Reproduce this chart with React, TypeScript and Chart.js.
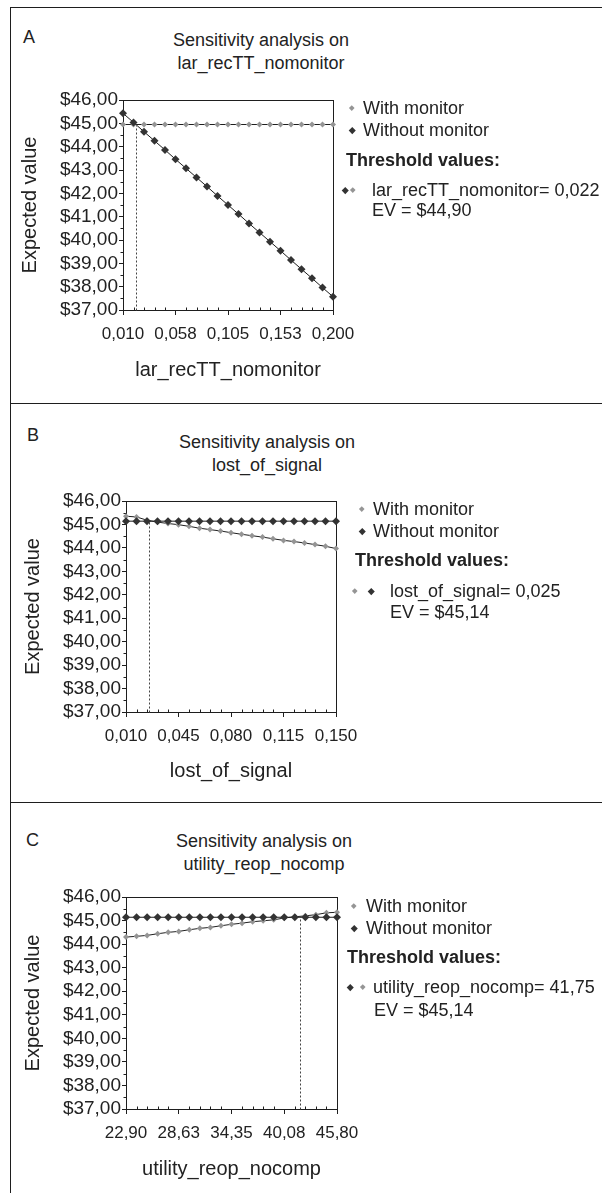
import React, { useEffect, useRef } from "react";
import { Chart, registerables } from "chart.js";

Chart.register(...registerables);

const FONT = "'Liberation Sans', Arial, Helvetica, sans-serif";
const TEXT = "#222222";
const DARK = "#333333";
const GRAY = "#959595";
const LINE = "#1e1e1e";

// ---------- shared y axis ----------
const yTickValues = [37, 38, 39, 40, 41, 42, 43, 44, 45, 46];
const yTickLabels = ["$37,00", "$38,00", "$39,00", "$40,00", "$41,00", "$42,00", "$43,00", "$44,00", "$45,00", "$46,00"];
const yMinorTicks = [37.5, 38.5, 39.5, 40.5, 41.5, 42.5, 43.5, 44.5, 45.5];

// ---------- Panel A : lar_recTT_nomonitor ----------
const xValuesA = [0.01, 0.0195, 0.029, 0.0385, 0.048, 0.0575, 0.067, 0.0765, 0.086, 0.0955, 0.105, 0.1145, 0.124, 0.1335, 0.143, 0.1525, 0.162, 0.1715, 0.181, 0.1905, 0.2];
const withMonitorA = [44.95, 44.95, 44.95, 44.95, 44.95, 44.95, 44.95, 44.95, 44.95, 44.95, 44.95, 44.95, 44.95, 44.95, 44.95, 44.95, 44.95, 44.95, 44.95, 44.95, 44.95];
const withoutMonitorA = [45.43, 45.04, 44.64, 44.25, 43.86, 43.46, 43.07, 42.68, 42.29, 41.89, 41.5, 41.11, 40.71, 40.32, 39.93, 39.54, 39.14, 38.75, 38.36, 37.96, 37.57];
const xTickValuesA = [0.01, 0.0575, 0.105, 0.1525, 0.2];
const xTickLabelsA = ["0,010", "0,058", "0,105", "0,153", "0,200"];
const thresholdXA = 0.022;
const thresholdEVA = 44.9;

// ---------- Panel B : lost_of_signal ----------
const xValuesB = [0.01, 0.017, 0.024, 0.031, 0.038, 0.045, 0.052, 0.059, 0.066, 0.073, 0.08, 0.087, 0.094, 0.101, 0.108, 0.115, 0.122, 0.129, 0.136, 0.143, 0.15];
const withMonitorB = [45.35, 45.32, 45.18, 45.1, 45.04, 44.99, 44.92, 44.84, 44.78, 44.72, 44.65, 44.58, 44.52, 44.46, 44.39, 44.32, 44.27, 44.21, 44.14, 44.07, 43.97];
const withoutMonitorB = [45.14, 45.14, 45.14, 45.14, 45.14, 45.14, 45.14, 45.14, 45.14, 45.14, 45.14, 45.14, 45.14, 45.14, 45.14, 45.14, 45.14, 45.14, 45.14, 45.14, 45.14];
const xTickValuesB = [0.01, 0.045, 0.08, 0.115, 0.15];
const xTickLabelsB = ["0,010", "0,045", "0,080", "0,115", "0,150"];
const thresholdXB = 0.025;
const thresholdEVB = 45.14;

// ---------- Panel C : utility_reop_nocomp ----------
const xValuesC = [22.9, 24.045, 25.19, 26.335, 27.48, 28.625, 29.77, 30.915, 32.06, 33.205, 34.35, 35.495, 36.64, 37.785, 38.93, 40.075, 41.22, 42.365, 43.51, 44.655, 45.8];
const withMonitorC = [44.3, 44.33, 44.37, 44.44, 44.5, 44.54, 44.61, 44.67, 44.71, 44.78, 44.84, 44.89, 44.95, 44.99, 45.03, 45.11, 45.16, 45.2, 45.25, 45.33, 45.35];
const withoutMonitorC = [45.14, 45.14, 45.14, 45.14, 45.14, 45.14, 45.14, 45.14, 45.14, 45.14, 45.14, 45.14, 45.14, 45.14, 45.14, 45.14, 45.14, 45.14, 45.14, 45.14, 45.14];
const xTickValuesC = [22.9, 28.625, 34.35, 40.075, 45.8];
const xTickLabelsC = ["22,90", "28,63", "34,35", "40,08", "45,80"];
const thresholdXC = 41.75;
const thresholdEVC = 45.14;

const decorPlugin = {
  id: "decor",
  beforeDatasetsDraw(chart: any, _args: any, opts: any) {
    const { ctx, chartArea: a, scales } = chart;
    const x = scales.x;
    const y = scales.y;
    ctx.save();
    ctx.strokeStyle = LINE;
    ctx.lineWidth = 1;
    ctx.setLineDash([]);
    const L = Math.round(a.left) + 0.5;
    const R = Math.round(a.right) + 0.5;
    const T = Math.round(a.top) + 0.5;
    const B = Math.round(a.bottom) + 0.5;
    ctx.strokeRect(L, T, R - L, B - T);
    // minor ticks on x (inside, upward)
    ctx.beginPath();
    (opts.minorX || []).forEach((v: number) => {
      const px = Math.round(x.getPixelForValue(v)) + 0.5;
      ctx.moveTo(px, B);
      ctx.lineTo(px, B - 3);
    });
    // minor ticks on y (outside, left)
    (opts.minorY || []).forEach((v: number) => {
      const py = Math.round(y.getPixelForValue(v)) + 0.5;
      ctx.moveTo(L, py);
      ctx.lineTo(L - 3, py);
    });
    ctx.stroke();
    // dotted threshold line
    const tx = Math.round(x.getPixelForValue(opts.thresholdX)) + 0.5;
    const ty = y.getPixelForValue(opts.thresholdEV);
    ctx.setLineDash([2, 2]);
    ctx.strokeStyle = "#444";
    ctx.beginPath();
    ctx.moveTo(tx, B);
    ctx.lineTo(tx, ty);
    ctx.stroke();
    ctx.restore();
  },
};

type PanelProps = {
  top: number;
  height: number;
  area: { left: number; right: number; top: number; bottom: number };
  yTitlePad: number;
  xTitlePad: number;
  xs: number[];
  withM: number[];
  withoutM: number[];
  xTicks: number[];
  xLabels: string[];
  thrX: number;
  thrEV: number;
  xTitle: string;
};

function PanelChart(p: PanelProps) {
  const ref = useRef<HTMLCanvasElement>(null);
  useEffect(() => {
    if (!ref.current) return;
    const minorX = p.xs.filter((v) => !p.xTicks.some((t) => Math.abs(t - v) < 1e-9));
    const chart = new Chart(ref.current, {
      type: "line",
      data: {
        datasets: [
          {
            label: "Without monitor",
            data: p.xs.map((x, i) => ({ x, y: p.withoutM[i] })),
            order: 0,
            borderColor: LINE,
            borderWidth: 1,
            pointStyle: "rectRot",
            pointRadius: 4,
            pointBackgroundColor: DARK,
            pointBorderColor: DARK,
            pointBorderWidth: 0,
            tension: 0,
            clip: false as any,
          },
          {
            label: "With monitor",
            data: p.xs.map((x, i) => ({ x, y: p.withM[i] })),
            order: 1,
            borderColor: LINE,
            borderWidth: 1,
            pointStyle: "rectRot",
            pointRadius: 3,
            pointBackgroundColor: GRAY,
            pointBorderColor: GRAY,
            pointBorderWidth: 0,
            tension: 0,
            clip: false as any,
          },
        ],
      },
      options: {
        responsive: false,
        animation: false,
        devicePixelRatio: 1,
        events: [],
        layout: {
          autoPadding: false,
          padding: { left: 0, top: p.area.top, right: 602 - p.area.right, bottom: 0 },
        },
        plugins: {
          legend: { display: false },
          tooltip: { enabled: false },
          decor: { minorX, minorY: yMinorTicks, thresholdX: p.thrX, thresholdEV: p.thrEV },
        } as any,
        scales: {
          x: {
            type: "linear",
            min: p.xTicks[0],
            max: p.xTicks[p.xTicks.length - 1],
            afterFit: (s: any) => {
              s.height = p.height - p.area.bottom;
            },
            afterBuildTicks: (s: any) => {
              s.ticks = p.xTicks.map((v) => ({ value: v }));
            },
            ticks: {
              callback: (_v: any, i: number) => p.xLabels[i],
              autoSkip: false,
              maxRotation: 0,
              minRotation: 0,
              padding: 9,
              color: TEXT,
              font: { family: FONT, size: 17 },
            },
            grid: { drawOnChartArea: false, drawTicks: true, tickLength: 5, color: LINE, tickColor: LINE, tickWidth: 1 },
            border: { display: true, color: LINE, width: 1 },
            title: {
              display: true,
              text: p.xTitle,
              color: TEXT,
              font: { family: FONT, size: 20 },
              padding: { top: 0, bottom: p.xTitlePad },
            },
          },
          y: {
            type: "linear",
            min: 37,
            max: 46,
            afterFit: (s: any) => {
              s.width = p.area.left;
            },
            afterBuildTicks: (s: any) => {
              s.ticks = yTickValues.map((v) => ({ value: v }));
            },
            ticks: {
              callback: (v: any) => {
                const i = yTickValues.indexOf(Number(v));
                return i >= 0 ? yTickLabels[i] : "";
              },
              autoSkip: false,
              padding: 1,
              color: TEXT,
              font: { family: FONT, size: 19 },
            },
            grid: { drawOnChartArea: false, drawTicks: true, tickLength: 4, color: LINE, tickColor: LINE, tickWidth: 1 },
            border: { display: true, color: LINE, width: 1 },
            title: {
              display: true,
              text: "Expected value",
              color: TEXT,
              font: { family: FONT, size: 20 },
              padding: { top: p.yTitlePad, bottom: 0 },
            },
          },
        },
      },
      plugins: [decorPlugin as any],
    });
    return () => chart.destroy();
  }, []);
  return (
    <canvas
      ref={ref}
      width={602}
      height={p.height}
      style={{ position: "absolute", left: 0, top: p.top, width: 602, height: p.height }}
    />
  );
}

function Txt(props: { x: number; y: number; text: string; size?: number; bold?: boolean; center?: boolean }) {
  const size = props.size ?? 18;
  const lh = Math.round(size * 1.15);
  const style: React.CSSProperties = {
    position: "absolute",
    top: props.y - lh / 2,
    fontSize: size,
    lineHeight: lh + "px",
    fontWeight: props.bold ? "bold" : "normal",
    whiteSpace: "nowrap",
    color: TEXT,
  };
  if (props.center) {
    style.left = props.x - 200;
    style.width = 400;
    style.textAlign = "center";
  } else {
    style.left = props.x;
  }
  return <div style={style}>{props.text}</div>;
}

function Diamond(props: { cx: number; cy: number; side: number; color: string }) {
  return (
    <div
      style={{
        position: "absolute",
        left: props.cx - props.side / 2,
        top: props.cy - props.side / 2,
        width: props.side,
        height: props.side,
        background: props.color,
        transform: "rotate(45deg)",
      }}
    />
  );
}

function HLine(props: { y: number }) {
  return <div style={{ position: "absolute", left: 10, top: props.y, width: 592, height: 1, background: LINE }} />;
}

export default function App() {
  return (
    <div
      style={{
        position: "absolute",
        left: 0,
        top: 0,
        width: 602,
        height: 1193,
        overflow: "hidden",
        background: "#fff",
        fontFamily: FONT,
      }}
    >
      {/* frame */}
      <HLine y={7} />
      <HLine y={403} />
      <HLine y={802} />
      <div style={{ position: "absolute", left: 10, top: 7, width: 1, height: 1186, background: LINE }} />

      {/* Panel A */}
      <Txt x={23} y={37} text="A" />
      <Txt x={261} y={40} text="Sensitivity analysis on" center />
      <Txt x={261} y={63} text="lar_recTT_nomonitor" center />
      <PanelChart
        top={7}
        height={396}
        area={{ left: 123, right: 333, top: 93, bottom: 303 }}
        yTitlePad={18}
        xTitlePad={21}
        xs={xValuesA}
        withM={withMonitorA}
        withoutM={withoutMonitorA}
        xTicks={xTickValuesA}
        xLabels={xTickLabelsA}
        thrX={thresholdXA}
        thrEV={thresholdEVA}
        xTitle="lar_recTT_nomonitor"
      />
      <Diamond cx={352} cy={108} side={3.5} color={GRAY} />
      <Txt x={363} y={108} text="With monitor" />
      <Diamond cx={352} cy={130} side={4.5} color={DARK} />
      <Txt x={363} y={130} text="Without monitor" />
      <Txt x={346} y={160} text="Threshold values:" bold />
      <Diamond cx={345} cy={190} side={4.5} color={DARK} />
      <Diamond cx={353} cy={190} side={3.5} color={GRAY} />
      <Txt x={372} y={190} text="lar_recTT_nomonitor= 0,022" />
      <Txt x={372} y={210} text="EV = $44,90" />

      {/* Panel B */}
      <Txt x={27} y={435} text="B" />
      <Txt x={267} y={442} text="Sensitivity analysis on" center />
      <Txt x={267} y={465} text="lost_of_signal" center />
      <PanelChart
        top={403}
        height={399}
        area={{ left: 126, right: 336, top: 98, bottom: 309 }}
        yTitlePad={21}
        xTitlePad={19}
        xs={xValuesB}
        withM={withMonitorB}
        withoutM={withoutMonitorB}
        xTicks={xTickValuesB}
        xLabels={xTickLabelsB}
        thrX={thresholdXB}
        thrEV={thresholdEVB}
        xTitle="lost_of_signal"
      />
      <Diamond cx={362} cy={509} side={3.5} color={GRAY} />
      <Txt x={373} y={509} text="With monitor" />
      <Diamond cx={362} cy={531} side={4.5} color={DARK} />
      <Txt x={373} y={531} text="Without monitor" />
      <Txt x={355} y={560} text="Threshold values:" bold />
      <Diamond cx={355} cy={591} side={3.5} color={GRAY} />
      <Diamond cx={371} cy={591} side={4.5} color={DARK} />
      <Txt x={390} y={591} text="lost_of_signal= 0,025" />
      <Txt x={390} y={612} text="EV = $45,14" />

      {/* Panel C */}
      <Txt x={26} y={840} text="C" />
      <Txt x={264} y={841} text="Sensitivity analysis on" center />
      <Txt x={264} y={864} text="utility_reop_nocomp" center />
      <PanelChart
        top={802}
        height={391}
        area={{ left: 126, right: 337, top: 95, bottom: 307 }}
        yTitlePad={21}
        xTitlePad={12}
        xs={xValuesC}
        withM={withMonitorC}
        withoutM={withoutMonitorC}
        xTicks={xTickValuesC}
        xLabels={xTickLabelsC}
        thrX={thresholdXC}
        thrEV={thresholdEVC}
        xTitle="utility_reop_nocomp"
      />
      <Diamond cx={354} cy={906} side={3.5} color={GRAY} />
      <Txt x={366} y={906} text="With monitor" />
      <Diamond cx={354} cy={928} side={4.5} color={DARK} />
      <Txt x={366} y={928} text="Without monitor" />
      <Txt x={347} y={957} text="Threshold values:" bold />
      <Diamond cx={350} cy={987} side={4.5} color={DARK} />
      <Diamond cx={363} cy={987} side={3.5} color={GRAY} />
      <Txt x={373} y={987} text="utility_reop_nocomp= 41,75" />
      <Txt x={374} y={1010} text="EV = $45,14" />
    </div>
  );
}
